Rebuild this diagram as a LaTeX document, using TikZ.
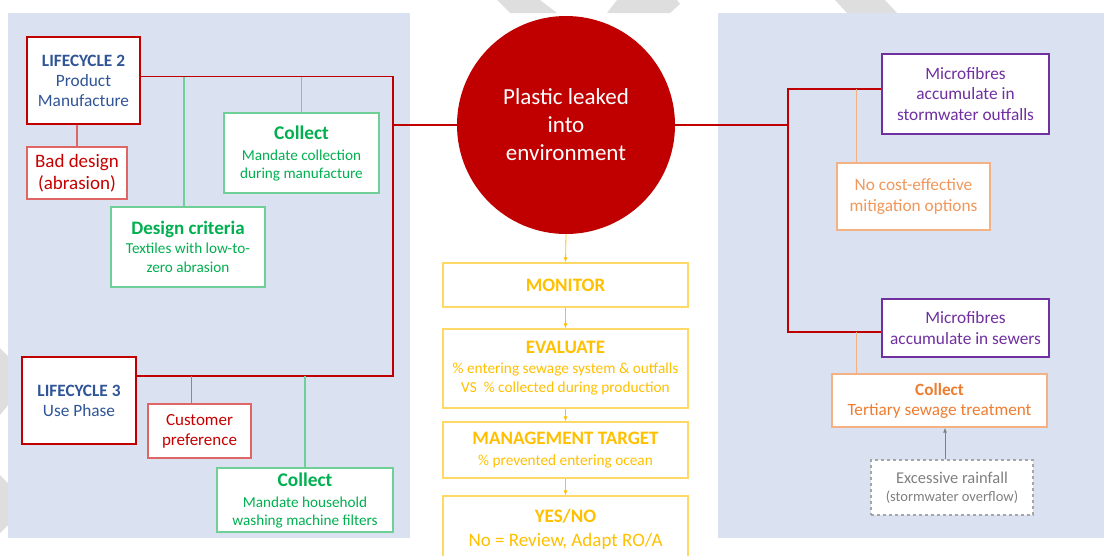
\documentclass[tikz,border=0pt]{standalone}
\usepackage{fontspec}
\setmainfont{Carlito}
\usepackage{xcolor}
\usetikzlibrary{shapes, positioning, arrows.meta}

\definecolor{PanelBlue}{HTML}{DAE1F0}
\definecolor{DarkRed}{HTML}{C00000}
\definecolor{SoftRed}{HTML}{E06666}
\definecolor{LifeBlue}{HTML}{2F5597}
\definecolor{LeafGreen}{HTML}{00B050}
\definecolor{SoftGreen}{HTML}{6FCF97}
\definecolor{Gold}{HTML}{FFC000}
\definecolor{SoftGold}{HTML}{FFD966}
\definecolor{Plum}{HTML}{7030A0}
\definecolor{Amber}{HTML}{ED7D31}
\definecolor{SoftAmber}{HTML}{F4B183}
\definecolor{Mark}{HTML}{DEDEDE}

\newcommand{\fs}[2]{\fontsize{#1}{#2}\selectfont}

\begin{document}
\begin{tikzpicture}[
			x=1pt, y=-1pt,
			BoxCfg/.style={
				fill=white, align=center, inner sep=0pt,
				line width=1.2pt
			},
			LifeBox/.style={BoxCfg, draw=DarkRed, line width=2pt,
				text=LifeBlue, font=\fs{17.3}{20}},
			CauseBox/.style={BoxCfg, draw=SoftRed, text=DarkRed!90!red},
			ActBox/.style={BoxCfg, draw=SoftGreen, text=LeafGreen, font=\fs{15.2}{18}},
			StepBox/.style={BoxCfg, draw=SoftGold, text=Gold,
				minimum width=245pt, font=\fs{15.3}{19}},
			SinkBox/.style={BoxCfg, draw=Plum, line width=1.6pt,
				text=Plum, font=\fs{17.3}{20.5},
				minimum width=167pt},
			OptBox/.style={BoxCfg, draw=SoftAmber, text=Amber},
			RainBox/.style={BoxCfg, draw=gray!70, dashed, text=gray, font=\fs{14.5}{18}},
			BusLine/.style={DarkRed, line width=1.8pt},
			GreenLink/.style={SoftGreen, line width=1.2pt},
			RedLink/.style={SoftRed, line width=1.2pt},
			AmberLink/.style={SoftAmber, line width=1.2pt},
			FlowArrow/.style={Gold, line width=0.8pt, -{Latex[length=5pt,width=4pt]}},
			RainArrow/.style={gray, line width=1pt, -{Latex[length=5pt,width=4pt]}}
			]
			
			\clip (0,0) rectangle (1106,555);
			
			% watermark bits
			\fill[Mark] (497,0) -- (540,0) -- (557,13) -- (510,13) -- cycle;
			\fill[Mark] (617,0) -- (677,0) -- (680,4) -- (670,13) -- (607,13) -- cycle;
			\fill[Mark] (835,0) -- (885,0) -- (897,13) -- (847,13) -- cycle;
			\fill[Mark] (0,348) -- (8,356) -- (8,405) -- (0,415) -- cycle;
			\fill[Mark] (0,475) -- (8,483) -- (8,525) -- (0,533) -- cycle;
			
			% panels
			\fill[PanelBlue] (8,13) rectangle (410,538);
			\fill[PanelBlue] (718,13) rectangle (1104,538);
			
			% left panel
			\path
			(83.5,80.5) node [LifeBox, minimum width=113pt, minimum height=87pt] (LC2)
			{\textbf{LIFECYCLE 2}\\Product\\Manufacture}
			(77,173) node [CauseBox, minimum width=100pt, minimum height=52pt,
				font=\fs{19}{22}] (BadDesign) {Bad design\\(abrasion)}
			(301.5,153) node [ActBox, minimum width=155pt, minimum height=80pt] (CollectA)
			{{\fs{19.4}{18}\bfseries Collect}\\[3pt]Mandate collection\\during manufacture}
			(188,247) node [ActBox, minimum width=154pt, minimum height=80pt,
				font=\fs{15.2}{19}] (Design)
			{{\fs{19}{18}\bfseries Design criteria}\\Textiles with low-to-\\zero abrasion}
			(79,400.5) node [LifeBox, minimum width=114pt, minimum height=87pt] (LC3)
			{\textbf{LIFECYCLE 3}\\Use Phase}
			(199.5,431) node [CauseBox, minimum width=103pt, minimum height=54pt,
				font=\fs{17}{20}] (Customer) {Customer\\preference}
			(305,500) node [ActBox, minimum width=176pt, minimum height=64pt] (CollectB)
			{{\fs{19.4}{18}\bfseries Collect}\\[3pt]Mandate household\\washing machine filters};
			
			% middle
			\path
			(566,125) node [circle, fill=DarkRed, minimum size=218pt, inner sep=0pt,
				text=white, align=center, font=\fs{23}{28}] (Leak)
			{Plastic leaked\\into\\environment}
			(565.5,285) node [StepBox, minimum height=44pt] (Monitor)
			{\fs{19}{18}\bfseries MONITOR}
			(565.5,368.5) node [StepBox, minimum height=79pt] (Evaluate)
			{{\fs{19}{18}\bfseries EVALUATE}\\[1pt]\% entering sewage system \& outfalls\\VS\ \ \% collected during production}
			(565.5,450) node [StepBox, minimum height=56pt] (Target)
			{{\fs{19}{18}\bfseries MANAGEMENT TARGET}\\[2pt]\% prevented entering ocean}
			(565.5,529) node [StepBox, minimum height=66pt, font=\fs{19}{22}] (YesNo)
			{\textbf{YES/NO}\\[2pt]No = Review, Adapt RO/A};
			
			% right panel
			\path
			(965.5,94) node [SinkBox, minimum height=80pt] (Sink1)
			{Microfibres\\accumulate in\\stormwater outfalls}
			(913.5,196.5) node [OptBox, minimum width=153pt, minimum height=67pt,
				font=\fs{17.3}{21}, text=Amber!80] (NoCost)
			{No cost-effective\\mitigation options}
			(965.5,328) node [SinkBox, minimum height=58pt] (Sink2)
			{Microfibres\\accumulate in sewers}
			(939.5,400.5) node [OptBox, minimum width=215pt, minimum height=53pt,
				font=\fs{17.2}{20}] (CollectC)
			{\textbf{Collect}\\Tertiary sewage treatment}
			(952,487.5) node [RainBox, minimum width=162pt, minimum height=55pt] (Rain)
			{{\fs{16.5}{18}Excessive rainfall}\\(stormwater overflow)};
			
			% red bus lines
			\coordinate (TopTap) at ([yshift=4pt]LC2.east);
			\coordinate (LowTap) at ([yshift=-20pt]LC3.north east);
			\coordinate (TapR1) at ([yshift=5pt]Sink1.west);
			\coordinate (TapR2) at ([yshift=-4pt]Sink2.west);
			\path (Leak.west) ++(-64,0) coordinate (BusL);
			\path (Leak.east) ++(113,0) coordinate (BusR);
			
			\draw[BusLine] (TopTap) -| (BusL) |- (LowTap);
			\draw[BusLine] (BusL) -- (Leak.west);
			\draw[BusLine] (TapR1) -| (BusR) |- (TapR2);
			\draw[BusLine] (Leak.east) -- (BusR);
			
			% side links
			\draw[RedLink] (BadDesign.north) -- (BadDesign.north |- LC2.south);
			\draw[RedLink] ([xshift=-8pt]Customer.north) -- ([xshift=-8pt]Customer.north |- LowTap);
			\draw[GreenLink] ([xshift=-4pt]Design.north) -- ([xshift=-4pt]Design.north |- TopTap);
			\draw[GreenLink] (CollectA.north) -- (CollectA.north |- TopTap);
			\draw[GreenLink] (CollectB.north) -- (CollectB.north |- LowTap);
			\draw[AmberLink] ([xshift=20pt]NoCost.north west) -- ([xshift=20pt]NoCost.north west |- TapR1);
			\draw[AmberLink] ([xshift=25pt]CollectC.north west) -- ([xshift=25pt]CollectC.north west |- TapR2);
			
			% arrows
			\draw[FlowArrow] (Leak.south) -- (Monitor.north);
			\draw[FlowArrow] (Monitor.south) -- (Evaluate.north);
			\draw[FlowArrow] (Evaluate.south) -- (Target.north);
			\draw[FlowArrow] (Target.south) -- (YesNo.north);
			\draw[RainArrow] ([xshift=-7pt]Rain.north) -- ([xshift=-7pt]Rain.north |- CollectC.south);
		\end{tikzpicture}
\end{document}
